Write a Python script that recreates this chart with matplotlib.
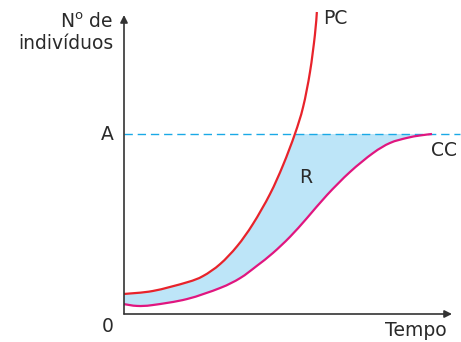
import numpy as np
import matplotlib
matplotlib.use("Agg")
from matplotlib import pyplot as plt
from matplotlib.path import Path
from matplotlib.patches import PathPatch

# values (time 0-100, individuals 0-100)
pc_t = [0.0, 8.8, 19.2, 24.1, 29.3, 34.5, 39.3, 44.5, 48.5, 52.1, 54.6, 56.7, 58.2, 58.8]
pc_n = [6.7, 7.7, 10.6, 12.7, 16.7, 22.7, 30.1, 40.1, 49.8, 60.2, 69.2, 80.9, 93.3, 101.0]

cc_t = [0.0, 4.0, 8.8, 19.2, 29.3, 35.4, 40.5, 45.4, 50.6, 55.8, 61.9, 68.9, 75.9, 81.1, 86.3, 90.2, 93.9]
cc_n = [3.3, 2.7, 3.0, 5.0, 8.7, 12.0, 16.1, 20.4, 25.8, 32.1, 39.8, 47.5, 53.8, 57.2, 58.9, 59.7, 60.2]

carrying = 60.2


def smooth_segments(t, n):
    # catmull-rom through the points, as cubic bezier pieces
    p = np.column_stack([t, n]).astype(float)
    ext = np.vstack([p[0], p, p[-1]])
    segs = []
    for i in range(len(p) - 1):
        p0, p1, p2, p3 = ext[i], ext[i + 1], ext[i + 2], ext[i + 3]
        segs.append((p1, p1 + (p2 - p0) / 6, p2 - (p3 - p1) / 6, p2))
    return segs


def curve_path(segs):
    verts = [segs[0][0]]
    codes = [Path.MOVETO]
    for s in segs:
        verts += [s[1], s[2], s[3]]
        codes += [Path.CURVE4] * 3
    return Path(verts, codes)


W, H = 461, 342
fig = plt.figure(figsize=(W / 100, H / 100), dpi=100)
ax = fig.add_axes([124 / W, (H - 314) / H, 328 / W, 299 / H])
ax.set_xlim(0, 100)
ax.set_ylim(0, 100)
ax.axis("off")

pc_segs = smooth_segments(pc_t, pc_n)
cc_segs = smooth_segments(cc_t, cc_n)

# shaded region R: under PC (up to A) and above CC
k = pc_n.index(carrying)
verts = [pc_segs[0][0]]
codes = [Path.MOVETO]
for s in pc_segs[:k]:
    verts += [s[1], s[2], s[3]]
    codes += [Path.CURVE4] * 3
verts.append(cc_segs[-1][3])
codes.append(Path.LINETO)
for s in reversed(cc_segs):
    verts += [s[2], s[1], s[0]]
    codes += [Path.CURVE4] * 3
verts.append(verts[0])
codes.append(Path.CLOSEPOLY)
ax.add_patch(PathPatch(Path(verts, codes), facecolor="#bde5f8", lw=0, zorder=1))

# dashed line A
ax.plot([0, 102.5], [carrying, carrying], color="#1aa9e6", lw=1.0,
        dashes=(6, 3.5), clip_on=False, zorder=2)

ax.add_patch(PathPatch(curve_path(pc_segs), facecolor="none", edgecolor="#e8232b",
                       lw=1.6, clip_on=False, zorder=3))
ax.add_patch(PathPatch(curve_path(cc_segs), facecolor="none", edgecolor="#e0167f",
                       lw=1.6, clip_on=False, zorder=3))

# axes with arrows
arrow = dict(arrowstyle="-|>", color="#333333", lw=1.2, mutation_scale=11,
             shrinkA=0, shrinkB=0)
ax.annotate("", xy=(100, 0), xytext=(0, 0), arrowprops=arrow, annotation_clip=False)
ax.annotate("", xy=(0, 100), xytext=(0, 0), arrowprops=arrow, annotation_clip=False)

fs = 13.5
col = "#2a2a2a"
def label(x, y, s, **kw):
    fig.text(x / W, 1 - y / H, s, fontsize=fs, color=col, **kw)

label(113, 33, "N$^\\mathregular{o}$ de\nindivíduos", ha="right", va="center",
      multialignment="right", linespacing=1.15)
label(107, 134, "A", ha="center", va="center")
label(108, 326, "0", ha="center", va="center")
label(416, 331, "Tempo", ha="center", va="center")
label(323, 19, "PC", ha="left", va="center")
label(444, 150, "CC", ha="center", va="center")
label(306, 177, "R", ha="center", va="center")

fig.savefig("out.png", dpi=100)
